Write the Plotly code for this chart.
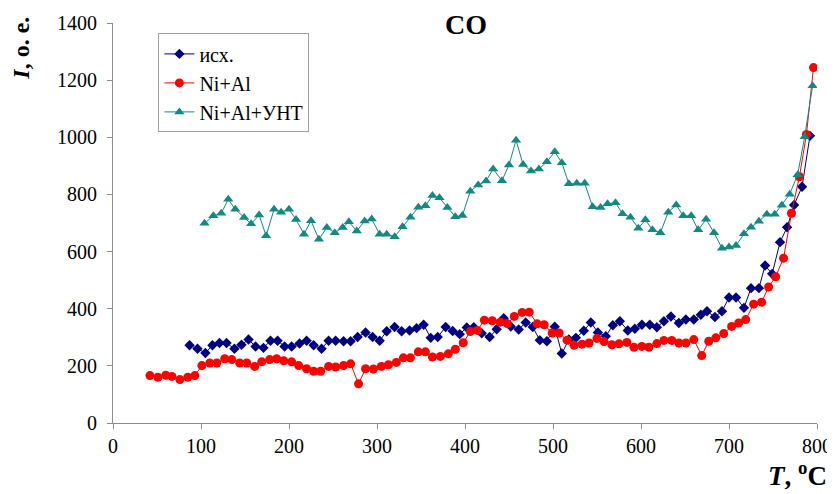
import plotly.graph_objects as go

# Ni+Al+УНТ (teal triangles)
t_unt = [104,114,123,131,139,149,157,166,174,183,191,200,208,217,225,234,243,252,261,268,
         277,286,294,303,311,320,329,338,347,355,363,371,380,389,397,406,415,424,432,442,
         450,458,466,475,484,493,502,510,518,527,536,545,554,562,571,579,588,597,605,613,
         622,631,640,648,657,665,674,683,692,700,708,717,725,734,743,752,760,769,778,786,795]
i_unt = [699,725,734,783,748,719,697,728,655,748,738,748,712,661,708,643,684,666,684,704,
         672,707,714,661,661,652,687,720,755,760,796,788,754,722,726,811,833,847,889,848,
         903,990,905,882,889,914,949,911,837,839,839,757,754,767,771,732,720,682,711,676,
         666,738,763,725,725,676,713,666,612,616,621,662,685,706,731,731,762,801,869,1002,1180]

# исх. (navy diamonds)
t_ish = [87,96,105,113,121,129,138,146,154,162,171,179,187,195,203,212,220,228,237,245,
         253,262,270,278,287,295,303,311,320,328,337,345,353,361,369,378,386,394,402,410,
         419,428,436,444,452,461,469,477,485,493,502,510,518,526,535,543,551,560,568,576,
         585,593,601,610,618,626,634,643,651,660,668,675,684,692,700,708,717,725,734,741,
         749,758,766,774,783,792]
i_ish = [272,260,245,272,280,280,260,274,292,268,263,288,288,268,268,278,288,272,260,288,
         288,286,286,301,317,301,288,321,336,321,324,332,344,298,301,336,322,311,334,335,
         314,301,328,367,338,327,352,336,290,286,337,243,292,298,323,352,317,304,342,356,
         324,330,344,344,335,356,373,350,362,362,379,391,371,391,439,439,403,472,472,551,
         522,633,685,763,827,1005]

# Ni+Al (red circles)
t_nial = [42,51,60,67,76,85,93,101,110,118,127,135,144,152,161,169,178,186,194,203,
          211,220,228,236,245,253,262,270,279,287,296,305,313,322,330,338,347,355,363,372,
          381,389,398,406,414,422,431,440,448,456,465,473,482,490,499,507,516,524,533,541,
          550,558,567,575,584,592,601,609,618,626,635,643,651,660,669,677,685,694,703,711,
          719,728,737,745,753,762,771,780,788,796]
i_nial = [166,160,167,163,152,160,166,201,210,210,225,222,210,210,198,214,222,225,218,214,
          201,190,181,181,198,196,201,207,137,190,189,198,204,212,228,228,249,249,231,233,
          242,258,281,320,324,360,358,353,348,373,387,388,347,344,315,315,290,272,276,280,
          296,285,274,277,282,265,268,265,278,289,289,280,280,292,236,286,298,313,338,350,
          362,416,423,476,512,577,734,862,1010,1244]

x_ticks = [0, 100, 200, 300, 400, 500, 600, 700, 800]
y_ticks = [0, 200, 400, 600, 800, 1000, 1200, 1400]

FONT = "Liberation Serif, Tinos, Times New Roman, Times, DejaVu Serif, serif"
AX = "#8c8c8c"

fig = go.Figure()
fig.add_trace(go.Scatter(x=t_ish, y=i_ish, name="исх.", mode="lines+markers",
                         line=dict(color="#000080", width=1),
                         marker=dict(symbol="diamond", size=8, color="#000080")))
fig.add_trace(go.Scatter(x=t_nial, y=i_nial, name="Ni+Al", mode="lines+markers",
                         line=dict(color="#ff0000", width=1),
                         marker=dict(symbol="circle", size=9, color="#ff0000")))
fig.add_trace(go.Scatter(x=t_unt, y=i_unt, name="Ni+Al+УНТ", mode="lines+markers",
                         line=dict(color="#128a81", width=1),
                         marker=dict(symbol="triangle-up", size=9, color="#128a81")))

fig.update_layout(
    width=827, height=486,
    margin=dict(l=105, r=18, t=15, b=71),
    paper_bgcolor="white", plot_bgcolor="white",
    font=dict(family=FONT, size=20, color="black"),
    showlegend=True,
    legend=dict(x=0.0645, y=0.974, xanchor="left", yanchor="top",
                bgcolor="white", bordercolor="#a0a0a0", borderwidth=1,
                font=dict(family=FONT, size=20, color="black"),
                itemwidth=30, tracegroupgap=0),
    xaxis=dict(range=[0, 800], tickvals=x_ticks, showgrid=False, zeroline=False,
               showline=True, linecolor=AX, linewidth=1, automargin=False,
               ticks="outside", ticklen=5, tickcolor=AX,
               tickfont=dict(family=FONT, size=20, color="black")),
    yaxis=dict(range=[0, 1400], tickvals=y_ticks, showgrid=False, zeroline=False,
               showline=True, linecolor=AX, linewidth=1, automargin=False,
               ticks="outside", ticklen=5, tickcolor=AX, ticklabelstandoff=6,
               tickfont=dict(family=FONT, size=20, color="black")),
    annotations=[
        dict(text="<b>CO</b>", xref="paper", yref="paper", x=0.502, y=0.9955,
             xanchor="center", yanchor="middle", showarrow=False,
             font=dict(family=FONT, size=28, color="black")),
        dict(text="<b><i>I</i>, o. e.</b>", xref="paper", yref="paper", x=-0.130, y=0.937,
             xanchor="center", yanchor="middle", showarrow=False, textangle=-90,
             font=dict(family=FONT, size=24, color="black")),
        dict(text="<b><i>T</i>, <sup>o</sup>C</b>", xref="paper", yref="paper", x=0.9716, y=-0.128,
             xanchor="center", yanchor="middle", showarrow=False,
             font=dict(family=FONT, size=27, color="black")),
    ],
)

fig.write_html("out.html")
